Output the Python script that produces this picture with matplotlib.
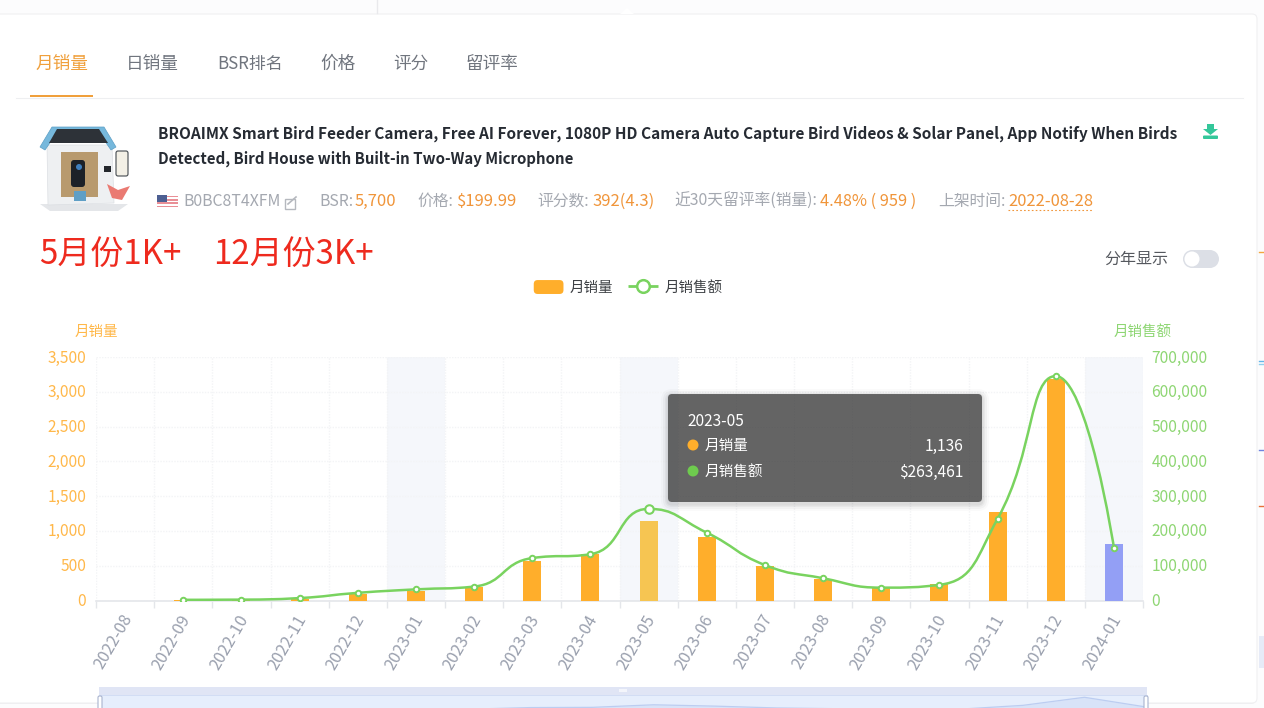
import matplotlib
matplotlib.use("Agg")
import numpy as np
import matplotlib.pyplot as plt
from matplotlib.patches import FancyBboxPatch, Rectangle, Polygon, Circle, PathPatch, Patch
from matplotlib.path import Path
from matplotlib.lines import Line2D
from matplotlib.legend_handler import HandlerPatch
from matplotlib.transforms import ScaledTranslation

plt.rcParams['font.family'] = ['Noto Sans CJK SC', 'DejaVu Sans']

months = ['2022-08', '2022-09', '2022-10', '2022-11', '2022-12', '2023-01', '2023-02', '2023-03', '2023-04',
          '2023-05', '2023-06', '2023-07', '2023-08', '2023-09', '2023-10', '2023-11', '2023-12', '2024-01']
units = [0, 4, 4, 15, 100, 140, 190, 565, 670, 1136, 910, 490, 310, 190, 230, 1270, 3190, 810]
sales = [np.nan, 2000, 2500, 7000, 22000, 32000, 40000, 122000, 133000, 263461, 195000, 102000, 64000,
         37000, 45000, 235000, 645000, 152000]
left_ticks = [0, 500, 1000, 1500, 2000, 2500, 3000, 3500]
right_ticks = [0, 100000, 200000, 300000, 400000, 500000, 600000, 700000]
shaded_months = ['2023-01', '2023-05', '2024-01']
title_lines = ['BROAIMX Smart Bird Feeder Camera, Free AI Forever, 1080P HD Camera Auto Capture Bird Videos & Solar Panel, App Notify When Birds',
               'Detected, Bird House with Built-in Two-Way Microphone']
tabs = ['月销量', '日销量', 'BSR排名', '价格', '评分', '留评率']

W, H = 1264, 708
ORANGE = '#ffae2b'
GREEN = '#79d35f'
BLUE = '#939ff5'
HILITE = '#f6c552'
GRID = '#f3f4f6'
px = 0.72  # pixels to points at 100 dpi

fig = plt.figure(figsize=(W / 100, H / 100), dpi=100, facecolor='#fcfcfd')


def box(l, t, r, b):
    return [l / W, 1 - b / H, (r - l) / W, (b - t) / H]


# page / card layer
bg = fig.add_axes([0, 0, 1, 1], zorder=0)
bg.set_xlim(0, W)
bg.set_ylim(H, 0)
bg.axis('off')
bg.add_patch(FancyBboxPatch((-20, 15), 1276, 689, boxstyle='round,pad=0,rounding_size=5', fc='#eeeff1', ec='none'))
bg.add_patch(FancyBboxPatch((-20, 14), 1277, 689, boxstyle='round,pad=0,rounding_size=5', fc='white', ec='#f0f0f2', lw=0.8))
bg.add_patch(Polygon([(620, 14), (627, 8), (634, 14)], fc='white', ec='none'))
bg.add_line(Line2D([377, 377], [0, 13], color='#e9e9ec', lw=1))
for y, c in [(252, '#f3a63e'), (361, '#64b5e8'), (364, '#8fd0f0'), (450, '#6f83e0'), (506, '#e8703a')]:
    bg.add_line(Line2D([1259, 1264], [y, y], color=c, lw=1))
bg.add_patch(Rectangle((1259, 636), 5, 32, fc='#e6ebf7', ec='none'))

# tabs
tab_x = [36, 126, 217, 320, 393, 466]
for i, (t, x) in enumerate(zip(tabs, tab_x)):
    bg.text(x, 63.5, t, fontsize=(16.9 if i == 2 else 17.6) * px, va='center', ha='left',
            color='#f0a03c' if i == 0 else '#70757e', fontweight='medium' if i == 2 else 'regular')
bg.add_line(Line2D([16, 1243], [97.5, 97.5], color='#eeeff1', lw=0.8))
bg.add_patch(Rectangle((30, 95), 63, 2, fc='#f0a03c', ec='none'))

# title
bg.text(158, 133.5, title_lines[0], fontsize=15.45 * px, fontweight='bold', color='#262b33', va='center', ha='left')
bg.text(158, 158.5, title_lines[1], fontsize=15.0 * px, fontweight='bold', color='#262b33', va='center', ha='left')

# download icon
bg.add_patch(Polygon([(1207, 124), (1214, 124), (1214, 129), (1218, 129), (1210.5, 135), (1203, 129), (1207, 129)], fc='#34c79a', ec='none'))
bg.add_patch(FancyBboxPatch((1203, 135.5), 15, 3.5, boxstyle='round,pad=0,rounding_size=1', fc='#34c79a', ec='none'))

# product picture
bg.add_patch(Polygon([(40, 204), (128, 204), (118, 211), (50, 211)], fc='#e4e6e9', ec='none'))
bg.add_patch(Polygon([(47, 145), (112, 145), (114, 203), (48, 205)], fc='#eef0f2', ec='#dcdfe3', lw=0.5))
bg.add_patch(Polygon([(40, 147), (52, 127), (104, 127), (116, 147), (111, 150), (100, 134), (56, 134), (45, 150)], fc='#76b8dc', ec='#5c9fc6', lw=0.5))
bg.add_patch(Polygon([(57, 129), (99, 129), (108, 143), (49, 143)], fc='#2d3238', ec='none'))
bg.add_patch(Rectangle((61, 152), 37, 45, fc='#b89a6e', ec='none'))
bg.add_patch(FancyBboxPatch((71, 160), 14, 27, boxstyle='round,pad=0,rounding_size=3', fc='#1c2128', ec='none'))
bg.add_patch(Circle((79, 167), 3, fc='#3f7fbe', ec='none'))
bg.add_patch(FancyBboxPatch((116, 151), 12, 25, boxstyle='round,pad=0,rounding_size=2', fc='#f3f0e6', ec='#444a50', lw=0.8))
bg.add_patch(Rectangle((104, 166), 7, 6, fc='#23272c', ec='none'))
bg.add_patch(Polygon([(107, 184), (118, 190), (130, 186), (122, 200), (112, 198)], fc='#ea7a72', ec='none'))
bg.add_patch(Rectangle((74, 191), 12, 10, fc='#5f9fc6', ec='none'))

# meta row
GREY = '#a4a8b0'
META = '#f0953a'
bg.add_patch(Rectangle((157, 195), 21, 14, fc='white', ec='none'))
for k in range(4):
    bg.add_patch(Rectangle((157, 195.5 + 3.4 * k), 21, 1.7, fc='#e98f96', ec='none'))
bg.add_patch(Rectangle((157, 195), 10, 7, fc='#4d5f92', ec='none'))
segments = [(183, 'B0BC8T4XFM', GREY, 15.8), (319, 'BSR:', GREY, 15.8), (355, '5,700', META, 16.6), (417, '价格:', GREY, 15.8),
            (457, '$199.99', META, 16.6), (537, '评分数:', GREY, 15.8), (592, '392(4.3)', META, 16.6),
            (674, '近30天留评率(销量):', GREY, 15.8), (820, '4.48% ( 959 )', META, 16.4), (938, '上架时间:', GREY, 15.8),
            (1008, '2022-08-28', META, 16.5)]
for x, t, c, s in segments:
    bg.text(x, 201.5, t, fontsize=s * px, color=c, va='center', ha='left',
            fontweight='medium' if c == META else 'regular')
bg.add_line(Line2D([1008, 1093], [209.5, 209.5], color=META, lw=0.8, ls=(0, (1.5, 2))))
bg.add_patch(Rectangle((285, 199), 10, 10, fc='none', ec='#b5b8be', lw=1))
bg.add_line(Line2D([288, 296], [204, 197], color='#b5b8be', lw=1.2))

# red annotation
bg.text(39, 254, '5月份1K+', fontsize=33 * px, color='#ee2a1e', va='center', ha='left')
bg.text(213, 254, '12月份3K+', fontsize=33 * px, color='#ee2a1e', va='center', ha='left')

# toggle
bg.text(1104, 259, '分年显示', fontsize=16 * px, color='#55585e', va='center', ha='left')
bg.add_patch(Rectangle((1192, 250), 18, 18, fc='#dcdfe6', ec='none'))
bg.add_patch(Circle((1192, 259), 9, fc='#dcdfe6', ec='none'))
bg.add_patch(Circle((1210, 259), 9, fc='#dcdfe6', ec='none'))
bg.add_patch(Circle((1192, 259), 7.5, fc='white', ec='none'))

# main chart
ax = fig.add_axes(box(96, 357, 1143, 600.5), zorder=2)
ax.patch.set_alpha(0)
positions = np.arange(len(months))
ax.set_xlim(-0.5, len(months) - 0.5)
ax.set_ylim(0, 3500)
for m in shaded_months:
    i = months.index(m)
    ax.axvspan(i - 0.5, i + 0.5, color='#f5f7fb', lw=0, zorder=0)
bar_colors = [BLUE if m == '2024-01' else HILITE if m == '2023-05' else ORANGE for m in months]
ax.bar(positions, units, width=0.31, color=bar_colors, zorder=3, label='月销量')
ax.set_yticks(left_ticks)
ax.set_yticklabels([f'{v:,}' for v in left_ticks], fontsize=15.5 * px, color='#ffb84a')
ax.set_xticks(positions)
ax.set_xticklabels(months, rotation=60, ha='right', rotation_mode='anchor', fontsize=16.4 * px, color='#9aa0ae')
ax.set_xticks(np.r_[positions - 0.5, positions[-1] + 0.5], minor=True)
ax.tick_params(axis='x', which='major', length=0, pad=8)
ax.tick_params(axis='x', which='minor', length=5, color='#e4e6ea', width=1)
ax.tick_params(axis='y', length=0, pad=7)
ax.grid(True, axis='y', color=GRID, lw=1, ls=(0, (1, 1)), zorder=1)
ax.grid(True, axis='x', which='minor', color=GRID, lw=1, ls=(0, (1, 1)), zorder=1)
ax.grid(False, axis='x', which='major')
for s in ['top', 'left', 'right']:
    ax.spines[s].set_visible(False)
ax.spines['bottom'].set_color('#e4e6ea')
ax.spines['bottom'].set_linewidth(1.2)
shift = ScaledTranslation(-4 / 100, 0, fig.dpi_scale_trans)
for lab in ax.get_xticklabels():
    lab.set_transform(lab.get_transform() + shift)

ax2 = ax.twinx()
ax2.patch.set_alpha(0)
ax2.set_ylim(0, 700000)
ax2.set_yticks(right_ticks)
ax2.set_yticklabels([f'{v:,}' for v in right_ticks], fontsize=15.5 * px, color='#8ed673')
ax2.tick_params(axis='y', length=0, pad=6)
for s in ax2.spines.values():
    s.set_visible(False)
lift = ScaledTranslation(0, 1 / 100, fig.dpi_scale_trans)
for lab in list(ax.get_yticklabels()) + list(ax2.get_yticklabels()):
    lab.set_transform(lab.get_transform() + lift)

# smooth curve through the monthly sales (ECharts' constrained Bezier smoothing)
valid = [i for i, v in enumerate(sales) if not np.isnan(v)]
sx, sy = 58.2, 243.5 / 700000
pts = np.array([(i * sx, sales[i] * sy) for i in valid])
n = len(pts)
smooth = 0.5
verts = [(valid[0], sales[valid[0]])]
codes = [Path.MOVETO]


def to_data(p):
    return (p[0] / sx, p[1] / sy)


cp1 = pts[0].copy()
for i in range(1, n):
    p = pts[i]
    if i == n - 1:
        cp0 = p.copy()
        nxt_cp1 = p.copy()
    else:
        prev, nxt = pts[i - 1], pts[i + 1]
        d = nxt - prev
        l0 = np.hypot(*(p - prev))
        l1 = np.hypot(*(nxt - p))
        r = l1 / (l0 + l1)
        c1 = p + d * smooth * r
        c1 = np.maximum(np.minimum(c1, np.maximum(nxt, p)), np.minimum(nxt, p))
        v = c1 - p
        c0 = p - v * l0 / l1
        c0 = np.maximum(np.minimum(c0, np.maximum(prev, p)), np.minimum(prev, p))
        v = p - c0
        nxt_cp1 = p + v * l1 / l0
        cp0 = c0
    verts += [to_data(cp1), to_data(cp0), to_data(p)]
    codes += [Path.CURVE4] * 3
    cp1 = nxt_cp1
curve = Path(verts, codes)
ax2.add_patch(PathPatch(curve, fc='none', ec=GREEN, lw=2.5 * px, zorder=4))
plain = [i for i in valid if months[i] != '2023-05']
ax2.plot(positions[plain], [sales[i] for i in plain], ls='none', marker='o', ms=5.5 * px, mfc='white',
         mec=GREEN, mew=1.4, zorder=5)
hi = months.index('2023-05')
ax2.plot([positions[hi]], [sales[hi]], ls='none', marker='o', ms=8.5 * px, mfc='white', mec=GREEN, mew=1.5, zorder=5)

# axis names
bg.text(96, 332, '月销量', fontsize=14.5 * px, color='#ffb84a', va='center', ha='center')
bg.text(1143, 332, '月销售额', fontsize=14.5 * px, color='#8ed673', va='center', ha='center')


# legend
class RoundHandler(HandlerPatch):
    def create_artists(self, legend, orig, xd, yd, w, h, fontsize, trans):
        return [FancyBboxPatch((-xd, -yd), w, h, boxstyle=f'round,pad=0,rounding_size={h * 0.28}',
                               fc=orig.get_facecolor(), ec='none', transform=trans)]


handles = [Patch(fc=ORANGE, label='月销量'),
           Line2D([], [], color=GREEN, lw=2, marker='o', ms=11 * px * 1.15, mfc='white', mec=GREEN, mew=1.8,
                  solid_capstyle='butt', label='月销售额')]
fig.legend(handles=handles, handler_map={Patch: RoundHandler()}, loc='center', bbox_to_anchor=(628 / W, 1 - 287.5 / H),
           ncols=2, frameon=False, fontsize=14.5 * px, labelcolor='#3f4246', handlelength=2.05, handleheight=1.1,
           handletextpad=0.45, columnspacing=1.0, borderpad=0)

# overlay: slider and tooltip
top = fig.add_axes([0, 0, 1, 1], zorder=5)
top.set_xlim(0, W)
top.set_ylim(H, 0)
top.axis('off')
top.patch.set_alpha(0)
top.add_patch(Rectangle((99, 687), 1048, 8, fc='#e0e5f5', ec='none'))
top.add_patch(Rectangle((99, 695), 1048, 13, fc='#e6eefc', ec='none'))
top.add_line(Line2D([99, 1147], [695, 695], color='#cfdaf3', lw=0.6))
top.add_patch(Rectangle((619, 689), 8, 3, fc='#f3f5fb', ec='none'))

# miniature of the sales line inside the slider
mini = fig.add_axes(box(100, 695, 1146, 708), zorder=6)
mini.axis('off')
mini.patch.set_alpha(0)
mini.plot(positions[valid], [sales[i] for i in valid], color='#bccdf1', lw=0.9)
mini.fill_between(positions[valid], [sales[i] for i in valid], 100000, color='#d8e3f8', lw=0)
mini.set_xlim(0, len(months) - 1)
mini.set_ylim(100000, 761000)

tip = fig.add_axes([0, 0, 1, 1], zorder=7)
tip.set_xlim(0, W)
tip.set_ylim(H, 0)
tip.axis('off')
tip.patch.set_alpha(0)
for hx in (100, 1146):
    tip.add_patch(FancyBboxPatch((hx - 2, 696), 4, 14, boxstyle='round,pad=0,rounding_size=1.5', fc='white', ec='#a9b4cf', lw=0.8))
for grow, a in [(7, 0.02), (5, 0.03), (3, 0.04), (1.5, 0.05)]:
    tip.add_patch(FancyBboxPatch((668 - grow, 394 - grow + 2), 314 + 2 * grow, 108 + 2 * grow,
                                 boxstyle=f'round,pad=0,rounding_size={4 + grow}', fc='black', alpha=a, ec='none'))
tip.add_patch(FancyBboxPatch((668, 394), 314, 108, boxstyle='round,pad=0,rounding_size=4', fc='#323232', alpha=0.7, ec='none'))
tip.text(687, 421, months[hi], fontsize=15.5 * px, color='white', va='center', ha='left')
for y, c, name, val in [(445, ORANGE, '月销量', f'{units[hi]:,}'), (471, '#6ecb4e', '月销售额', f'${sales[hi]:,}')]:
    tip.add_patch(Circle((693, y), 5.5, fc=c, ec='none'))
    tip.text(705, y + 1, name, fontsize=14.6 * px, color='white', va='center', ha='left')
    tip.text(963, y + 1, val, fontsize=15.5 * px, color='white', va='center', ha='right')

fig.savefig('out.png', dpi=100, facecolor=fig.get_facecolor())
